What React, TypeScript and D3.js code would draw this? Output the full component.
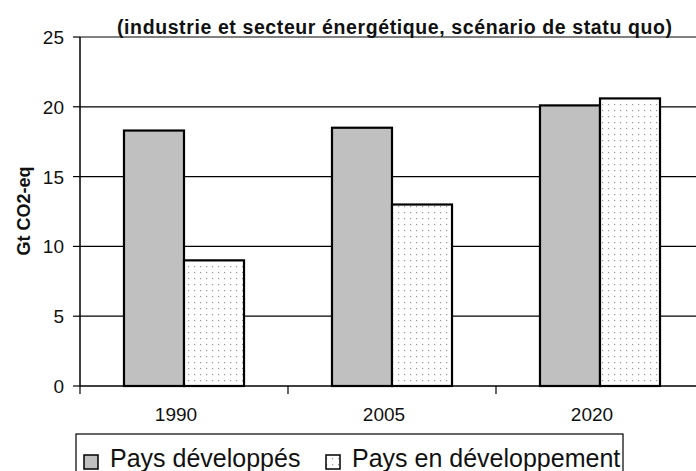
import React from "react";
import * as d3 from "d3";

const years = ["1990", "2005", "2020"];
const developed = [18.3, 18.5, 20.1];
const developing = [9.0, 13.0, 20.6];
const yTicks = [0, 5, 10, 15, 20, 25];
const seriesNames = ["Pays développés", "Pays en développement"];

const W = 696;
const H = 471;
const FONT = "'Liberation Sans', Arial, sans-serif";

export default function App() {
  const x = d3.scaleBand<string>().domain(years).range([80, 704]);
  const inner = d3
    .scaleBand<string>()
    .domain(seriesNames)
    .range([0, x.bandwidth()])
    .paddingInner(0)
    .paddingOuter(0.733);
  const y = d3.scaleLinear().domain([0, 25]).range([386, 37]);

  const series = [developed, developing];
  const boundaries = [80, ...years.map((yr) => (x(yr) as number) + x.bandwidth())];

  return (
    <svg
      width={W}
      height={H}
      style={{ position: "absolute", left: 0, top: 0, background: "#fff" }}
      fontFamily={FONT}
    >
      <defs>
        <pattern id="dots" width={6} height={6} patternUnits="userSpaceOnUse">
          <rect width={6} height={6} fill="#fff" />
          <rect x={2} y={2} width={1.2} height={1.2} fill="#9a9a9a" />
        </pattern>
      </defs>

      {/* top border of plot area */}
      <line x1={80} x2={W} y1={y(25)} y2={y(25)} stroke="#808080" strokeWidth={2} />

      {/* gridlines */}
      {yTicks
        .filter((t) => t > 0 && t < 25)
        .map((t) => (
          <line key={t} x1={80} x2={W} y1={y(t)} y2={y(t)} stroke="#000" strokeWidth={1.2} />
        ))}

      {/* bars */}
      {years.map((yr, i) =>
        series.map((s, j) => {
          const bx = (x(yr) as number) + (inner(seriesNames[j]) as number);
          return (
            <rect
              key={yr + j}
              x={bx}
              y={y(s[i])}
              width={inner.bandwidth()}
              height={y(0) - y(s[i])}
              fill={j === 0 ? "#c0c0c0" : "url(#dots)"}
              stroke="#000"
              strokeWidth={2.2}
            />
          );
        })
      )}

      {/* axes */}
      <line x1={80} x2={80} y1={y(25)} y2={y(0)} stroke="#000" strokeWidth={1.5} />
      <line x1={80} x2={W} y1={y(0)} y2={y(0)} stroke="#000" strokeWidth={1.5} />
      {yTicks.map((t) => (
        <g key={t}>
          <line x1={73} x2={80} y1={y(t)} y2={y(t)} stroke="#000" strokeWidth={1.2} />
          <text x={64} y={y(t) + 7} fontSize={19} textAnchor="end" fill="#111">
            {t}
          </text>
        </g>
      ))}
      {boundaries.map((b, i) => (
        <line key={i} x1={b} x2={b} y1={y(0)} y2={y(0) + 8} stroke="#000" strokeWidth={1.2} />
      ))}
      {years.map((yr) => (
        <text
          key={yr}
          x={(x(yr) as number) + x.bandwidth() / 2 - 8}
          y={421}
          fontSize={19}
          textAnchor="middle"
          fill="#111"
        >
          {yr}
        </text>
      ))}

      {/* y label */}
      <text
        transform="translate(30,211) rotate(-90)"
        fontSize={18}
        fontWeight="bold"
        textAnchor="middle"
        fill="#111"
      >
        Gt CO2-eq
      </text>

      {/* title */}
      <text
        x={117}
        y={34}
        fontSize={19.5}
        fontWeight="bold"
        textLength={555}
        lengthAdjust="spacing"
        fill="#111"
      >
        (industrie et secteur énergétique, scénario de statu quo)
      </text>

      {/* legend */}
      <rect x={76} y={434} width={547} height={60} fill="#fff" stroke="#000" strokeWidth={1.2} />
      {seriesNames.map((name, j) => {
        const sx = j === 0 ? 84 : 326;
        return (
          <g key={name}>
            <rect
              x={sx}
              y={455}
              width={14}
              height={14}
              fill={j === 0 ? "#c0c0c0" : "url(#dots)"}
              stroke="#000"
              strokeWidth={1.5}
            />
            <text x={sx + 26} y={467} fontSize={25} fill="#111">
              {name}
            </text>
          </g>
        );
      })}
    </svg>
  );
}
